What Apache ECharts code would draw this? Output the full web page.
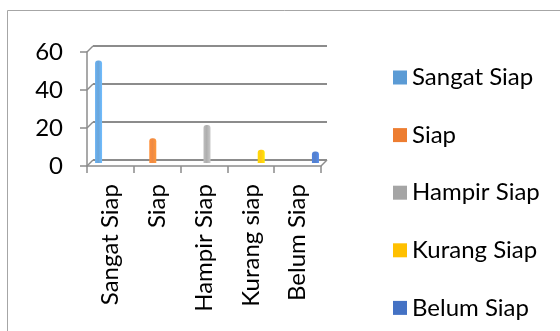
<!DOCTYPE html>
<html>
<head>
<meta charset="utf-8">
<script src="https://cdn.jsdelivr.net/npm/echarts@6/dist/echarts.min.js"></script>
<style>
  html, body { margin: 0; padding: 0; background: #fff; }
  #chart { width: 560px; height: 331px; }
</style>
</head>
<body>
<div id="chart"></div>
<script>
// Readiness categories and counts
const categories = ['Sangat Siap', 'Siap', 'Hampir Siap', 'Kurang siap', 'Belum Siap'];
const seriesNames = ['Sangat Siap', 'Siap', 'Hampir Siap', 'Kurang Siap', 'Belum Siap'];
const values = [54, 13, 20, 7, 6];
const yTicks = [0, 20, 40, 60];

const colors = ['#5B9BD5', '#ED7D31', '#A5A5A5', '#FFC000', '#4472C4'];
const FONT = 'Lato';
const FS = 24;
const LINE = '#8c8c8c';

// 3D box: front plane, back wall, and the bar plane half-way between
const front = { left: 87, top: 52, width: 234, height: 114 };
const DX = 6, DY = -6;
const back = { left: front.left + DX, top: front.top + DY, width: front.width, height: front.height };
const mid = { left: front.left + DX / 2, top: front.top + DY / 2, width: front.width, height: front.height };

function shade(c) {
  // cylinder-like shading across the bar
  return new echarts.graphic.LinearGradient(0, 0, 1, 0, [
    { offset: 0, color: echarts.color.lift(c, -0.15) },
    { offset: 0.45, color: echarts.color.lift(c, 0.1) },
    { offset: 1, color: echarts.color.lift(c, -0.22) }
  ]);
}

const yMax = yTicks[yTicks.length - 1];
const yStep = yTicks[1] - yTicks[0];

const chart = echarts.init(document.getElementById('chart'), null, { renderer: 'canvas' });

const barSeries = seriesNames.map((name, i) => ({
  name,
  type: 'bar',
  xAxisIndex: 2,
  yAxisIndex: 2,
  barWidth: 7,
  barGap: '6%',
  z: 5,
  itemStyle: { color: shade(colors[i]), borderRadius: [3, 3, 0, 0] },
  data: categories.map((_, j) => (j === i ? values[i] : '-'))
}));

chart.setOption({
  animation: false,
  backgroundColor: '#fff',
  textStyle: { fontFamily: FONT },
  graphic: [{
    type: 'rect',
    shape: { x: 7.5, y: 10.5, width: 700, height: 500 },
    style: { fill: 'none', stroke: '#a6a6a6', lineWidth: 1 },
    silent: true,
    z: -10
  }],
  grid: [
    Object.assign({}, front),
    Object.assign({}, back),
    Object.assign({}, mid)
  ],
  legend: {
    orient: 'vertical',
    left: 393,
    top: 65,
    height: 262,
    padding: 0,
    itemWidth: 14,
    itemHeight: 14,
    itemGap: 32.6,
    icon: 'rect',
    textStyle: { fontFamily: FONT, fontSize: FS, color: '#000', lineHeight: 25 },
    data: seriesNames.map((n, i) => ({ name: n, itemStyle: { color: colors[i] } }))
  },
  xAxis: [
    {
      gridIndex: 0, type: 'category', data: categories,
      axisLine: { show: true, lineStyle: { color: LINE, width: 1.5 } },
      axisTick: { show: true, length: 7, lineStyle: { color: LINE, width: 1.5 } },
      axisLabel: { rotate: 90, margin: 18, fontFamily: FONT, fontSize: FS, color: '#000', padding: [6, 0, 0, 0] },
      splitLine: { show: false }
    },
    { gridIndex: 1, type: 'category', data: categories, show: false },
    { gridIndex: 2, type: 'category', data: categories, show: false }
  ],
  yAxis: [
    {
      gridIndex: 0, type: 'value', min: 0, max: yMax, interval: yStep,
      axisLine: { show: true, lineStyle: { color: LINE, width: 1.5 } },
      axisTick: { show: true, length: 7, lineStyle: { color: LINE, width: 1.5 } },
      axisLabel: { margin: 24, fontFamily: FONT, fontSize: FS, color: '#000' },
      splitLine: { show: false }
    },
    {
      gridIndex: 1, type: 'value', min: 0, max: yMax, interval: yStep,
      axisLine: { show: false }, axisTick: { show: false }, axisLabel: { show: false },
      splitLine: { show: true, lineStyle: { color: LINE, width: 1.8 } }
    },
    {
      gridIndex: 2, type: 'value', min: 0, max: yMax, interval: yStep,
      show: false, splitLine: { show: false }
    }
  ],
  series: [
    // slanted edges joining the front axis to the back wall
    {
      type: 'custom',
      xAxisIndex: 0,
      yAxisIndex: 0,
      silent: true,
      z: 1,
      data: yTicks.map(t => [0, t]),
      renderItem: function (params, api) {
        const cs = params.coordSys;
        const y = api.coord([0, api.value(1)])[1];
        const style = { stroke: LINE, lineWidth: 1.5 };
        const children = [{
          type: 'line',
          shape: { x1: cs.x, y1: y, x2: cs.x + DX, y2: y + DY },
          style
        }];
        if (api.value(1) === 0) {
          children.push({
            type: 'line',
            shape: { x1: cs.x + cs.width, y1: y, x2: cs.x + cs.width + DX, y2: y + DY },
            style
          });
        }
        return { type: 'group', children };
      }
    }
  ].concat(barSeries)
});
</script>
</body>
</html>
